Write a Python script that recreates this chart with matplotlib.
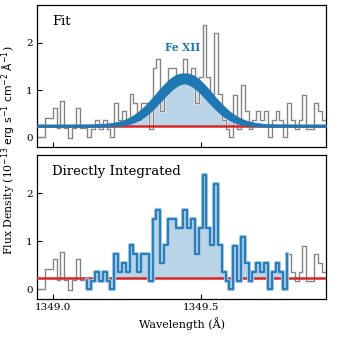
import itertools
import numpy as np
import matplotlib
matplotlib.use("Agg")
import matplotlib.pyplot as plt
import matplotlib.patheffects as pe

# bin edges of the spectrum (Angstrom)
edges = [1348.946, 1348.959, 1348.972, 1348.985, 1348.998, 1349.011, 1349.024, 1349.037,
         1349.050, 1349.063, 1349.076, 1349.089, 1349.102, 1349.115, 1349.128, 1349.141,
         1349.154, 1349.167, 1349.180, 1349.193, 1349.206, 1349.219, 1349.232, 1349.245,
         1349.258, 1349.271, 1349.284, 1349.297, 1349.310, 1349.323, 1349.336, 1349.349,
         1349.362, 1349.375, 1349.388, 1349.401, 1349.414, 1349.427, 1349.440, 1349.453,
         1349.466, 1349.479, 1349.492, 1349.505, 1349.518, 1349.531, 1349.544, 1349.557,
         1349.570, 1349.583, 1349.596, 1349.609, 1349.622, 1349.635, 1349.648, 1349.661,
         1349.674, 1349.687, 1349.700, 1349.713, 1349.726, 1349.739, 1349.752, 1349.765,
         1349.778, 1349.791, 1349.804, 1349.817, 1349.830, 1349.843, 1349.856, 1349.869,
         1349.882, 1349.895, 1349.908, 1349.921, 1349.934]

# flux density per bin (1e-13 erg/s/cm2/A)
flux = [0.0, 0.0, 0.42, 0.42, 0.63, 0.2, 0.77, 0.2, -0.02, 0.2,
        0.63, 0.2, 0.2, 0.0, 0.18, 0.37, 0.18, 0.37, 0.18, 0.0,
        0.73, 0.37, 0.55, 0.37, 0.92, 0.73, 0.37, 0.73, 0.73, 0.18,
        1.47, 1.65, 0.55, 0.92, 1.47, 1.47, 1.28, 1.28, 1.65, 1.28,
        1.47, 0.73, 1.28, 2.38, 1.28, 0.92, 2.2, 0.92, 0.37, 0.18,
        0.0, 0.9, 0.18, 1.1, 0.55, 0.18, 0.37, 0.55, 0.37, 0.55,
        0.0, 0.37, 0.55, 0.37, 0.0, 0.73, 0.37, 0.18, 0.37, 0.9,
        0.18, 0.18, 0.73, 0.55, 0.37, 0.37]

# bins used for the direct integration
int_first, int_last = 13, 64

continuum = 0.24

# gaussian fit: amplitude, centre, sigma, continuum and their uncertainties
fit_amp, fit_amp_err = 1.0, 0.08
fit_cen, fit_cen_err = 1349.443, 0.005
fit_sig, fit_sig_err = 0.086, 0.004
fit_cont, fit_cont_err = 0.25, 0.025

line_name = "Fe XII"
label_x, label_y = 1349.436, 1.9

plt.rcParams["font.family"] = "serif"
plt.rcParams["font.serif"] = ["DejaVu Serif"]
plt.rcParams["mathtext.fontset"] = "dejavusans"

blue = "#1f77b4"
red = "#d62728"

edges = np.array(edges)
flux = np.array(flux)

fig = plt.figure(figsize=(3.4, 3.4), dpi=100)
ax1 = fig.add_axes([0.109, 0.568, 0.850, 0.417])
ax2 = fig.add_axes([0.109, 0.121, 0.850, 0.423])

halo_gray = [pe.Stroke(linewidth=1.9, foreground="#e2e2e2"), pe.Normal()]
halo_blue = [pe.Stroke(linewidth=3.0, foreground="#9fc4e2"), pe.Normal()]

# --- top: fit ---
ax1.stairs(flux, edges, color="0.5", lw=0.7, path_effects=halo_gray, zorder=2)
ax1.axhline(continuum, color=red, lw=1.8, zorder=3)

x = np.linspace(edges[0], edges[-1], 600)
curves = []
for a, c, s, b in itertools.product(
        [fit_amp - fit_amp_err, fit_amp + fit_amp_err],
        [fit_cen - fit_cen_err, fit_cen + fit_cen_err],
        [fit_sig - fit_sig_err, fit_sig + fit_sig_err],
        [fit_cont - fit_cont_err, fit_cont + fit_cont_err]):
    curves.append(b + a * np.exp(-0.5 * ((x - c) / s) ** 2))
curves = np.array(curves)
lo = curves.min(axis=0)
hi = curves.max(axis=0)
ax1.fill_between(x, continuum, lo, color=blue, alpha=0.3, lw=0, zorder=1)
ax1.fill_between(x, lo, hi, color=blue, lw=0.6, edgecolor=blue, zorder=4)
ax1.text(label_x, label_y, line_name, color=blue, fontweight="bold",
         fontsize=7.6, ha="center", va="center")
ax1.text(0.052, 0.93, "Fit", transform=ax1.transAxes, fontsize=9.5,
         ha="left", va="top")

# --- bottom: directly integrated ---
ax2.stairs(flux, edges, color="0.5", lw=0.7, path_effects=halo_gray, zorder=2)
xs = edges[int_first:int_last + 2]
ys = np.append(flux[int_first:int_last + 1], flux[int_last + 1])
xs = np.insert(xs, 0, xs[0])
ys = np.insert(ys, 0, flux[int_first - 1])
ax2.fill_between(edges[int_first:int_last + 2],
                 np.append(flux[int_first:int_last + 1], flux[int_last]),
                 continuum, step="post", color=blue, alpha=0.3, lw=0, zorder=1)
ax2.step(xs, ys, where="post", color=blue, lw=1.3, path_effects=halo_blue, zorder=4)
ax2.axhline(continuum, color=red, lw=1.8, zorder=3)
ax2.text(0.052, 0.93, "Directly Integrated", transform=ax2.transAxes,
         fontsize=9.5, ha="left", va="top")

for ax in (ax1, ax2):
    ax.set_xlim(1348.945, 1349.923)
    ax.set_ylim(-0.2, 2.8)
    ax.set_xticks([1349.0, 1349.5])
    ax.set_yticks([0, 1, 2])
    ax.tick_params(direction="in", length=3.5, width=0.8, labelsize=7.5,
                   top=False, right=False, pad=3)
    for sp in ax.spines.values():
        sp.set_linewidth(0.9)

ax1.set_xticklabels([])
ax2.set_xticklabels(["1349.0", "1349.5"])
ax2.set_xlabel("Wavelength (Å)", fontsize=8, labelpad=4)

fig.text(0.025, 0.559,
         r"Flux Density (10$^{-13}$ $\mathrm{erg\ s^{-1}\ cm^{-2}\ \AA^{-1}}$)",
         rotation=90, ha="center", va="center", fontsize=7.8)

fig.savefig("out.png", dpi=100)
